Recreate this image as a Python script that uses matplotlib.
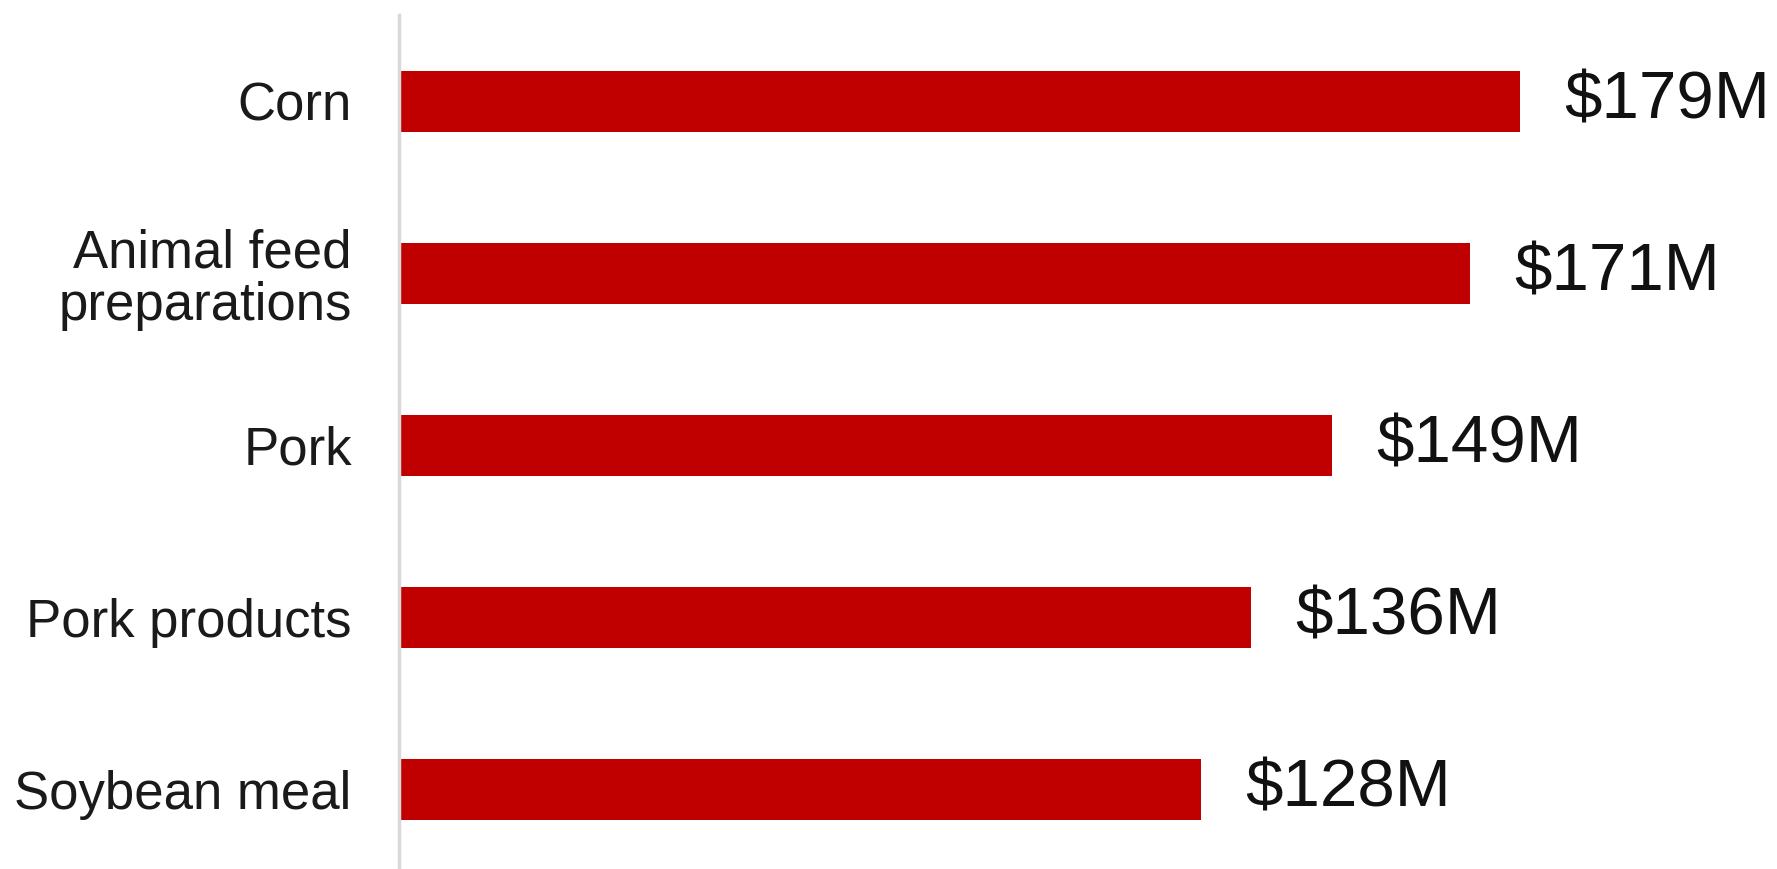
import matplotlib.pyplot as plt

plt.rcParams['font.family'] = ['Liberation Sans', 'DejaVu Sans']

# Top export products (values in $M)
categories = ['Corn', 'Animal feed\npreparations', 'Pork', 'Pork products', 'Soybean meal']
values = [179, 171, 149, 136, 128]
labels = ['$179M', '$171M', '$149M', '$136M', '$128M']

fig = plt.figure(figsize=(17.77, 8.69), dpi=100)
ax = fig.add_axes([0.2245, 0.0, 0.705, 0.9827])

pos = list(range(len(categories)))
bars = ax.barh(pos, values, height=0.355, color='#c00000')

for b, lab in zip(bars, labels):
    ax.annotate(lab, xy=(b.get_width(), b.get_y() + b.get_height() / 2),
                xytext=(32, 0), textcoords='offset points',
                va='center', ha='left', fontsize=48.5, color='#111111',
                annotation_clip=False)

ax.set_yticks(pos)
ax.set_yticklabels(categories, fontsize=38, color='#1a1a1a', linespacing=1.05)
ax.tick_params(axis='y', length=0, pad=34)
ax.set_xticks([])
ax.set_xlim(0, 200)
ax.set_ylim(4.46, -0.5)

for s in ['top', 'right', 'bottom']:
    ax.spines[s].set_visible(False)
ax.spines['left'].set_color('#d9d9d9')
ax.spines['left'].set_linewidth(2.5)

fig.savefig('out.png', dpi=100)
